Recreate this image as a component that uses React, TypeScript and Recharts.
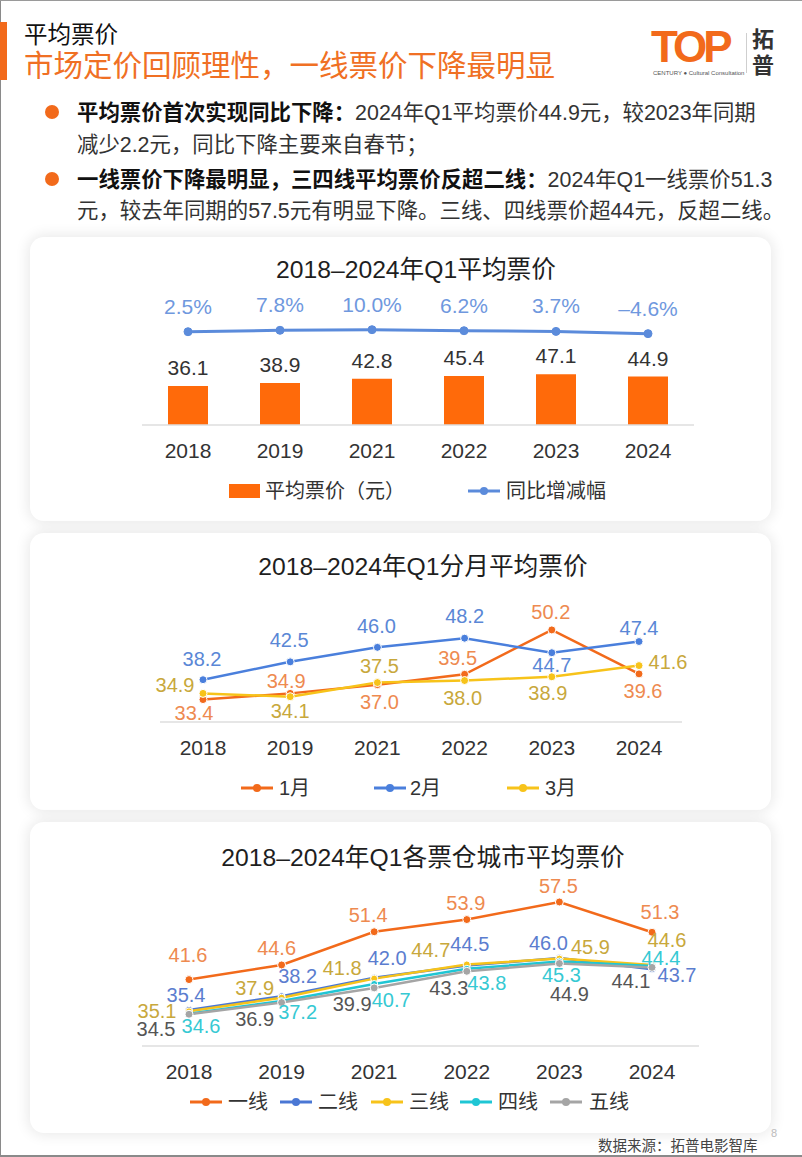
import React from 'react';
import { ComposedChart, LineChart, Bar, Line, XAxis, YAxis, LabelList, Legend } from 'recharts';

const FONT = "'Liberation Sans', 'Noto Sans CJK SC', sans-serif";

// ---------- data ----------
const years = ['2018', '2019', '2021', '2022', '2023', '2024'];
const avgPrice = [36.1, 38.9, 42.8, 45.4, 47.1, 44.9];
const yoyChange = [2.5, 7.8, 10.0, 6.2, 3.7, -4.6];

const janPrice = [33.4, 34.9, 37.0, 39.5, 50.2, 39.6];
const febPrice = [38.2, 42.5, 46.0, 48.2, 44.7, 47.4];
const marPrice = [34.9, 34.1, 37.5, 38.0, 38.9, 41.6];

const tier1 = [41.6, 44.6, 51.4, 53.9, 57.5, 51.3];
const tier2 = [35.4, 38.2, 42.0, 44.5, 46.0, 43.7];
const tier3 = [35.1, 37.9, 41.8, 44.7, 45.9, 44.6];
const tier4 = [34.6, 37.2, 40.7, 43.8, 45.3, 44.4];
const tier5 = [34.5, 36.9, 39.9, 43.3, 44.9, 44.1];

// label nudges (label centre relative to its point)
const janNudge = [[-9, 13], [-4, -12], [2, 17], [-7, -16], [-1, -18], [4, 17]];
const febNudge = [[-1, -21], [-1, -22], [-1, -21], [0, -22], [0, 12], [0, -14]];
const marNudge = [[-28, -8], [0, 14], [2, -17], [-2, 17], [-4, 16], [29, -4]];
const tier1Nudge = [[-1, -25], [-5, -17], [-6, -17], [-1, -17], [-1, -16], [8, -20]];
const tier2Nudge = [[-3, -15], [16, -20], [13, -20], [3, -21], [-11, -15], [25, 6]];
const tier3Nudge = [[-32, 0], [-27, -10], [-32, -11], [-36, -14], [31, -12], [15, -25]];
const tier4Nudge = [[12, 12], [16, 11], [17, 16], [20, 14], [2, 13], [9, -8]];
const tier5Nudge = [[-33, 15], [-27, 16], [-22, 16], [-18, 17], [10, 31], [-21, 14]];

const chart1Data = years.map((y, i) => ({ year: y, price: avgPrice[i], yoy: yoyChange[i] }));
const chart2Data = years.map((y, i) => ({ year: y, jan: janPrice[i], feb: febPrice[i], mar: marPrice[i] }));
const chart3Data = years.map((y, i) => ({ year: y, t1: tier1[i], t2: tier2[i], t3: tier3[i], t4: tier4[i], t5: tier5[i] }));

// ---------- colours ----------
const ORANGE = '#f26a1b';
const ORANGE_LBL = '#ee8a50';
const BAR = '#ff6a0a';
const BLUE1 = '#5b8bdb';
const BLUE1_LBL = '#6f98de';
const BLUE = '#4a7fdc';
const BLUE_LBL = '#5a87d6';
const YELLOW = '#f7c31a';
const YELLOW_LBL = '#c8a83c';
const BLUE3 = '#4a77d4';
const BLUE3_LBL = '#5b7dcf';
const CYAN = '#1fc6d4';
const CYAN_LBL = '#36c9d3';
const GRAY = '#a5a5a5';
const GRAY_LBL = '#555555';

const makeLabel = (color: string, nudges: number[][], fontSize: number) => (props: any) => {
  const vb = props.viewBox || {};
  const x = vb.x ?? props.x;
  const y = vb.y ?? props.y;
  const idx = props.index ?? 0;
  const n = nudges[idx] || [0, -18];
  const v = Number(props.value);
  return (
    <text
      x={x + n[0]}
      y={y + n[1]}
      fill={color}
      fontSize={fontSize}
      fontFamily={FONT}
      textAnchor="middle"
      dominantBaseline="central"
    >
      {v.toFixed(1)}
    </text>
  );
};

const LineIcon = ({ color, left, top }: { color: string; left: number; top: number }) => (
  <svg style={{ position: 'absolute', left, top }} width={32} height={12}>
    <line x1={0} y1={6} x2={32} y2={6} stroke={color} strokeWidth={3} />
    <circle cx={16} cy={6} r={4} fill={color} />
  </svg>
);

const legendText = (text: string, left: number) => (
  <span style={{ position: 'absolute', left, top: 0, lineHeight: '24px', fontSize: 20, color: '#333', whiteSpace: 'nowrap', fontFamily: FONT }}>
    {text}
  </span>
);

const Legend1 = () => (
  <div style={{ position: 'relative', height: 0 }}>
    <span style={{ position: 'absolute', left: 229, top: 5, width: 31, height: 14, background: BAR }} />
    {legendText('平均票价（元）', 265)}
    <LineIcon color={BLUE1} left={468} top={6} />
    {legendText('同比增减幅', 506)}
  </div>
);

const Legend2 = () => (
  <div style={{ position: 'relative', height: 0 }}>
    <LineIcon color={ORANGE} left={241} top={6} />
    {legendText('1月', 279)}
    <LineIcon color={BLUE} left={374} top={6} />
    {legendText('2月', 410)}
    <LineIcon color={YELLOW} left={507} top={6} />
    {legendText('3月', 545)}
  </div>
);

const tierLegend = [
  { name: '一线', color: ORANGE, icon: 190, text: 228 },
  { name: '二线', color: BLUE3, icon: 280, text: 318 },
  { name: '三线', color: YELLOW, icon: 371, text: 409 },
  { name: '四线', color: CYAN, icon: 460, text: 498 },
  { name: '五线', color: GRAY, icon: 550, text: 589 },
];

const Legend3 = () => (
  <div style={{ position: 'relative', height: 0 }}>
    {tierLegend.map((t) => (
      <React.Fragment key={t.name}>
        <LineIcon color={t.color} left={t.icon} top={6} />
        {legendText(t.name, t.text)}
      </React.Fragment>
    ))}
  </div>
);

const axisProps = {
  dataKey: 'year',
  height: 30,
  axisLine: { stroke: '#dedede', strokeWidth: 1.5 },
  tickLine: false,
  tick: { fill: '#333', fontSize: 21, fontFamily: FONT },
  tickMargin: 12,
  interval: 0 as const,
};

const Card = ({ top, height }: { top: number; height: number }) => (
  <div
    style={{
      position: 'absolute',
      left: 30,
      top,
      width: 741,
      height,
      background: '#fff',
      borderRadius: 14,
      boxShadow: '0 0 14px 2px rgba(0,0,0,0.09)',
    }}
  />
);

const Title = ({ text, cx, cy }: { text: string; cx: number; cy: number }) => (
  <div
    style={{
      position: 'absolute',
      left: cx - 260,
      width: 520,
      top: cy - 15,
      lineHeight: '30px',
      textAlign: 'center',
      fontSize: 24.7,
      color: '#1e1e1e',
      fontFamily: FONT,
      whiteSpace: 'nowrap',
    }}
  >
    {text}
  </div>
);

const lineText = (top: number, children: React.ReactNode) => (
  <div style={{ position: 'absolute', left: 77, top, lineHeight: '24px', fontSize: 21.4, color: '#333', whiteSpace: 'nowrap', fontFamily: FONT }}>
    {children}
  </div>
);

const Bullet = ({ cy }: { cy: number }) => (
  <div style={{ position: 'absolute', left: 45, top: cy - 7, width: 14, height: 14, borderRadius: 7, background: ORANGE }} />
);

const fmtPct = (v: any) => {
  const n = Number(v);
  return n < 0 ? `–${Math.abs(n).toFixed(1)}%` : `${n.toFixed(1)}%`;
};

export default function App() {
  return (
    <div
      style={{
        position: 'absolute',
        left: 0,
        top: 0,
        width: 802,
        height: 1157,
        background: '#fff',
        overflow: 'hidden',
        fontFamily: FONT,
      }}
    >
      {/* page frame lines */}
      <div style={{ position: 'absolute', left: 0, top: 0, width: 1, height: 1157, background: '#8a8a8a' }} />
      <div style={{ position: 'absolute', left: 0, top: 0, width: 802, height: 1, background: '#9a9a9a' }} />
      <div style={{ position: 'absolute', left: 0, top: 1155, width: 802, height: 2, background: '#8a8a8a' }} />

      {/* header */}
      <div style={{ position: 'absolute', left: 0, top: 22, width: 7, height: 58, background: ORANGE }} />
      <div style={{ position: 'absolute', left: 24, top: 21, lineHeight: '28px', fontSize: 23.5, color: '#111' }}>平均票价</div>
      <div style={{ position: 'absolute', left: 24, top: 50, lineHeight: '32px', fontSize: 29.5, color: '#f07024', whiteSpace: 'nowrap' }}>
        市场定价回顾理性，一线票价下降最明显
      </div>

      {/* logo */}
      <div
        style={{
          position: 'absolute',
          left: 651,
          top: 26,
          fontSize: 44,
          lineHeight: '42px',
          fontWeight: 900,
          color: ORANGE,
          letterSpacing: -4,
          fontFamily: "'Liberation Sans', sans-serif",
        }}
      >
        TOP
      </div>
      <div style={{ position: 'absolute', left: 653, top: 70, fontSize: 6, lineHeight: '7px', color: '#555', whiteSpace: 'nowrap' }}>
        CENTURY ● Cultural Consultation
      </div>
      <div style={{ position: 'absolute', left: 746, top: 33, width: 1, height: 40, background: '#cfcfcf' }} />
      <div style={{ position: 'absolute', left: 752, top: 28, fontSize: 22, lineHeight: '24px', fontWeight: 700, color: '#333' }}>拓</div>
      <div style={{ position: 'absolute', left: 752, top: 54, fontSize: 22, lineHeight: '24px', fontWeight: 700, color: '#333' }}>普</div>

      {/* bullets */}
      <Bullet cy={112} />
      <Bullet cy={179} />
      {lineText(101, (
        <>
          <b style={{ color: '#111' }}>平均票价首次实现同比下降：</b>2024年Q1平均票价44.9元，较2023年同期
        </>
      ))}
      {lineText(133, <>减少2.2元，同比下降主要来自春节；</>)}
      {lineText(168, (
        <>
          <b style={{ color: '#111' }}>一线票价下降最明显，三四线平均票价反超二线：</b>2024年Q1一线票价51.3
        </>
      ))}
      {lineText(199, <>元，较去年同期的57.5元有明显下降。三线、四线票价超44元，反超二线。</>)}

      {/* cards */}
      <Card top={237} height={284} />
      <Card top={533} height={277} />
      <Card top={822} height={311} />

      {/* chart 1 */}
      <Title text="2018–2024年Q1平均票价" cx={416} cy={270} />
      <div style={{ position: 'absolute', left: 0, top: 237 }}>
        <ComposedChart width={802} height={284} data={chart1Data} margin={{ top: 53, right: 108, bottom: 66, left: 142 }}>
          <XAxis {...axisProps} />
          <YAxis yAxisId="bar" hide domain={[0, 125]} />
          <YAxis yAxisId="line" hide orientation="right" domain={[-343, 157]} />
          <Bar yAxisId="bar" dataKey="price" fill={BAR} barSize={40} isAnimationActive={false}>
            <LabelList
              dataKey="price"
              position="top"
              offset={11}
              fill="#333"
              fontSize={21}
              fontFamily={FONT}
              formatter={(v: any) => Number(v).toFixed(1)}
            />
          </Bar>
          <Line
            yAxisId="line"
            dataKey="yoy"
            stroke={BLUE1}
            strokeWidth={3}
            dot={{ r: 4, fill: BLUE1, stroke: BLUE1, strokeWidth: 1 }}
            isAnimationActive={false}
          >
            <LabelList
              dataKey="yoy"
              position="top"
              offset={18}
              fill={BLUE1_LBL}
              fontSize={21}
              fontFamily={FONT}
              formatter={fmtPct}
            />
          </Line>
          <Legend content={<Legend1 />} wrapperStyle={{ left: 0, top: 491 - 237 - 12, width: 802 }} />
        </ComposedChart>
      </div>

      {/* chart 2 */}
      <Title text="2018–2024年Q1分月平均票价" cx={423} cy={567} />
      <div style={{ position: 'absolute', left: 0, top: 533 }}>
        <LineChart width={802} height={277} data={chart2Data} margin={{ top: 77, right: 120, bottom: 58, left: 160 }}>
          <XAxis {...axisProps} padding={{ left: 43, right: 43 }} />
          <YAxis hide domain={[28, 55]} />
          <Line dataKey="jan" stroke={ORANGE} strokeWidth={2.5} dot={{ r: 4, fill: ORANGE, stroke: '#fff', strokeWidth: 1 }} isAnimationActive={false}>
            <LabelList dataKey="jan" content={makeLabel(ORANGE_LBL, janNudge, 20)} />
          </Line>
          <Line dataKey="feb" stroke={BLUE} strokeWidth={2.5} dot={{ r: 4, fill: BLUE, stroke: '#fff', strokeWidth: 1 }} isAnimationActive={false}>
            <LabelList dataKey="feb" content={makeLabel(BLUE_LBL, febNudge, 20)} />
          </Line>
          <Line dataKey="mar" stroke={YELLOW} strokeWidth={2.5} dot={{ r: 4, fill: YELLOW, stroke: '#fff', strokeWidth: 1 }} isAnimationActive={false}>
            <LabelList dataKey="mar" content={makeLabel(YELLOW_LBL, marNudge, 20)} />
          </Line>
          <Legend content={<Legend2 />} wrapperStyle={{ left: 0, top: 788 - 533 - 12, width: 802 }} />
        </LineChart>
      </div>

      {/* chart 3 */}
      <Title text="2018–2024年Q1各票仓城市平均票价" cx={423} cy={858} />
      <div style={{ position: 'absolute', left: 0, top: 822 }}>
        <LineChart width={802} height={311} data={chart3Data} margin={{ top: 58, right: 103, bottom: 57, left: 142 }}>
          <XAxis {...axisProps} padding={{ left: 47, right: 47 }} />
          <YAxis hide domain={[28, 62]} />
          <Line dataKey="t1" stroke={ORANGE} strokeWidth={2.5} dot={{ r: 4, fill: ORANGE, stroke: '#fff', strokeWidth: 1 }} isAnimationActive={false}>
            <LabelList dataKey="t1" content={makeLabel(ORANGE_LBL, tier1Nudge, 20)} />
          </Line>
          <Line dataKey="t2" stroke={BLUE3} strokeWidth={2.5} dot={{ r: 3.5, fill: BLUE3, stroke: '#fff', strokeWidth: 1 }} isAnimationActive={false}>
            <LabelList dataKey="t2" content={makeLabel(BLUE3_LBL, tier2Nudge, 20)} />
          </Line>
          <Line dataKey="t3" stroke={YELLOW} strokeWidth={2.5} dot={{ r: 3.5, fill: YELLOW, stroke: '#fff', strokeWidth: 1 }} isAnimationActive={false}>
            <LabelList dataKey="t3" content={makeLabel(YELLOW_LBL, tier3Nudge, 20)} />
          </Line>
          <Line dataKey="t4" stroke={CYAN} strokeWidth={2.5} dot={{ r: 3.5, fill: CYAN, stroke: '#fff', strokeWidth: 1 }} isAnimationActive={false}>
            <LabelList dataKey="t4" content={makeLabel(CYAN_LBL, tier4Nudge, 20)} />
          </Line>
          <Line dataKey="t5" stroke={GRAY} strokeWidth={2.5} dot={{ r: 4, fill: GRAY, stroke: '#fff', strokeWidth: 1 }} isAnimationActive={false}>
            <LabelList dataKey="t5" content={makeLabel(GRAY_LBL, tier5Nudge, 20)} />
          </Line>
          <Legend content={<Legend3 />} wrapperStyle={{ left: 0, top: 1102 - 822 - 12, width: 802 }} />
        </LineChart>
      </div>

      {/* footer */}
      <div style={{ position: 'absolute', left: 598, top: 1137, fontSize: 14.5, lineHeight: '18px', color: '#444', whiteSpace: 'nowrap' }}>
        数据来源：拓普电影智库
      </div>
      <div style={{ position: 'absolute', left: 771, top: 1126, fontSize: 11, lineHeight: '14px', color: '#bbb' }}>8</div>
    </div>
  );
}
